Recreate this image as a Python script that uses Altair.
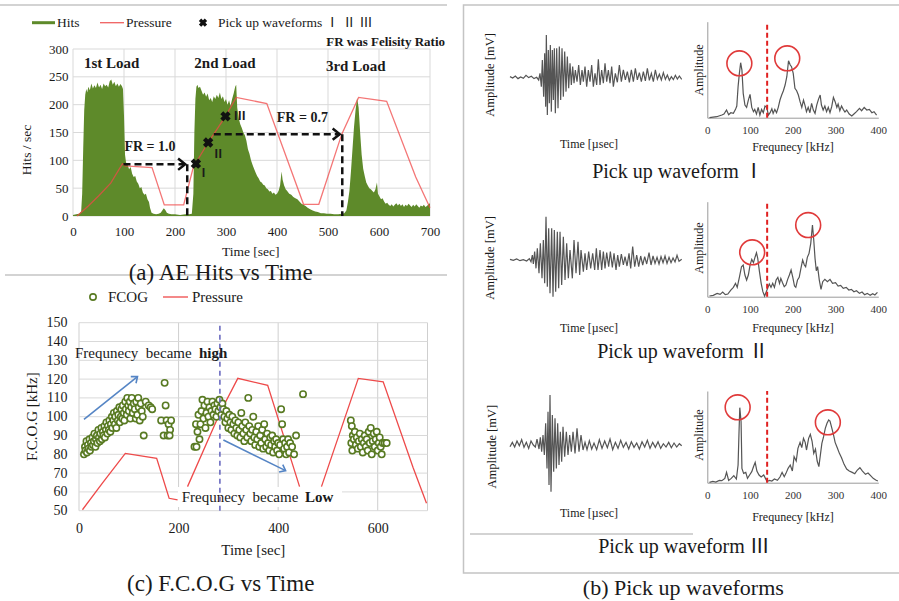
import altair as alt
import pandas as pd

SERIF = "Liberation Serif"
SERIF_R = "Liberation Serif, 'Noto Sans CJK JP'"
W, H = 899, 601
TXT = "#1a1a1a"
HEAD = "M-1,-0.8L0,0L-1,0.8"

# ---------------- (a) AE Hits vs Time ----------------
a_xticks = [0, 100, 200, 300, 400, 500, 600, 700]
a_yticks = [0, 50, 100, 150, 200, 250, 300]
hits_t = [0, 6, 12, 16, 18, 20, 22, 24, 26, 28,
          30, 33, 36, 39, 42, 45, 48, 51, 54, 57,
          60, 63, 66, 69, 72, 75, 78, 81, 84, 87,
          90, 93, 96, 98, 100, 102, 104, 107, 110, 113,
          116, 119, 122, 125, 128, 131, 134, 137, 140, 143,
          146, 149, 151, 154, 158, 163, 168, 172, 175, 178,
          181, 184, 188, 193, 200, 210, 220, 228, 233, 236,
          238, 240, 242, 244, 246, 249, 252, 255, 258, 261,
          264, 267, 270, 273, 276, 279, 282, 285, 288, 291,
          294, 297, 300, 303, 306, 309, 312, 315, 318, 320,
          322, 325, 328, 331, 334, 337, 340, 343, 346, 349,
          352, 355, 358, 361, 364, 367, 370, 373, 376, 379,
          382, 385, 388, 391, 394, 397, 400, 403, 406, 409,
          411, 414, 417, 420, 424, 428, 432, 436, 440, 444,
          448, 452, 456, 460, 465, 470, 475, 480, 486, 492,
          498, 505, 512, 520, 527, 532, 536, 539, 542, 545,
          548, 551, 554, 557, 560, 563, 566, 569, 572, 575,
          578, 581, 584, 587, 590, 593, 596, 598, 601, 604,
          607, 610, 613, 616, 619, 622, 625, 628, 631, 634,
          637, 640, 643, 646, 649, 652, 655, 658, 661, 664,
          667, 670, 673, 676, 679, 682, 685, 688, 691, 694,
          697, 700]
hits_v = [2, 3, 4, 8, 40, 120, 190, 218, 228, 222,
          232, 226, 238, 229, 235, 230, 240, 231, 236, 228,
          238, 233, 236, 231, 242, 245, 236, 241, 233, 238,
          232, 237, 233, 228, 180, 110, 96, 92, 84, 88,
          76, 70, 72, 62, 58, 50, 52, 42, 38, 40,
          30, 25, 15, 6, 4, 3, 4, 6, 10, 14,
          11, 6, 4, 3, 3, 2, 3, 3, 4, 40,
          150, 210, 232, 236, 230, 232, 225, 218, 222, 214,
          220, 208, 212, 205, 215, 210, 218, 212, 222, 210,
          215, 205, 210, 200, 208, 198, 210, 220, 232, 236,
          195, 175, 165, 158, 150, 145, 135, 120, 112, 100,
          92, 85, 78, 72, 68, 62, 60, 56, 55, 50,
          48, 44, 45, 40, 42, 38, 40, 45, 55, 80,
          65, 55, 48, 45, 40, 38, 34, 32, 30, 26,
          22, 20, 18, 15, 12, 10, 8, 7, 5, 5,
          4, 4, 3, 3, 4, 5, 10, 25, 45, 80,
          120, 160, 190, 212, 195, 150, 110, 85, 72, 60,
          55, 50, 48, 45, 42, 48, 60, 40, 35, 30,
          32, 26, 22, 24, 20, 18, 21, 17, 20, 23,
          19, 22, 18, 21, 16, 20, 18, 22, 19, 16,
          20, 17, 21, 18, 15, 19, 17, 20, 16, 18,
          21, 23]
press_a_t = [8, 30, 50, 74, 97, 102, 155, 179, 217, 236, 265, 299, 320, 380, 452, 482, 527, 560, 615, 672, 700]
press_a_v = [0, 18, 36, 59, 94, 90, 87, 20, 20, 88, 132, 179, 213, 202, 21, 21, 147, 213, 206, 70, 15]
pick_t = [241, 265, 299]
pick_v = [94, 132, 179]
pick_lab = ["Ⅰ", "Ⅱ", "Ⅲ"]
pick_lab_t = [256, 285, 327]
pick_lab_v = [77, 112, 180]
fr_seg = ["h1", "h1", "v1", "v1", "h2", "h2", "v2", "v2"]
fr_t = [99, 220, 224, 224, 276, 523, 528, 528]
fr_v = [93, 93, 93, 0, 147, 147, 147, 0]
frhead_t = [220, 523]
frhead_v = [93, 147]

# ---------------- (c) F.C.O.G vs Time ----------------
c_xticks = [0, 200, 400, 600]
c_xgrid = [0, 200, 400, 600, 700]
c_yticks = [50, 60, 70, 80, 90, 100, 110, 120, 130, 140, 150]
fcog_t = [10, 12, 13, 15, 16, 18, 19, 21, 22, 24, 25, 27, 28, 30, 31, 33, 34, 36, 37, 39,
          40, 42, 43, 45, 46, 48, 49, 51, 52, 54, 55, 57, 58, 60, 61, 63, 64, 66, 67, 69,
          70, 72, 73, 75, 76, 78, 79, 81, 82, 84, 85, 87, 88, 90, 91, 93, 94, 96, 97, 99,
          100, 102, 103, 105, 106, 108, 110, 112, 114, 115, 117, 119, 120, 122, 124, 126, 128, 130, 134, 140,
          144, 147,
          165, 170, 172, 174, 176, 178, 180, 183, 185, 182,
          232, 236, 238, 235, 240, 242, 244, 246, 248, 250, 252, 254, 256, 258, 260, 262, 264, 266, 268, 270,
          272, 274, 276, 278, 280, 282, 284, 286, 288, 290, 292,
          294, 296, 298, 300, 302, 304, 306, 308, 310, 312, 314, 316, 318, 320, 322, 324, 326, 328, 330, 332,
          334, 336, 338, 340, 342, 344, 346, 348, 350, 352, 354, 356, 358, 360, 362, 364, 366, 368, 370, 372,
          374, 376, 378, 380, 382, 384, 386, 388, 390, 392, 394, 396, 398, 400, 402, 404, 406, 408, 410, 412,
          414, 416, 418, 420, 422, 424, 428, 432, 436, 450,
          546, 548, 550, 547, 549, 552, 554, 556, 558, 560, 562, 564, 566, 568, 570, 572, 574, 576, 578, 580,
          582, 584, 586, 588, 590, 592, 594, 596, 598, 600, 602, 604, 606, 608, 610, 614, 618]
fcog_v = [80, 84, 82, 87, 81, 85, 83, 88, 82, 86, 84, 89, 85, 87, 91, 84, 88, 90, 86, 93,
          89, 87, 91, 94, 88, 92, 90, 95, 89, 93, 97, 91, 95, 93, 98, 92, 96, 100, 94, 98,
          102, 96, 100, 94, 103, 98, 101, 105, 97, 100, 104, 99, 106, 102, 98, 108, 104, 101, 110, 106,
          103, 108, 99, 105, 110, 102, 107, 104, 99, 108, 101, 110, 105, 98, 107, 103, 100, 90, 108, 106,
          105, 104,
          98, 90, 118, 106, 98, 90, 96, 93, 98, 90,
          84, 84, 92, 96, 101, 88, 96, 103, 109, 99, 106, 94, 102, 108, 100, 105, 97, 103, 108, 101,
          106, 104, 100, 107, 103, 109, 105, 101, 107, 104, 100,
          97, 103, 99, 94, 101, 97, 93, 100, 96, 91, 98, 94, 90, 97, 93, 89, 102, 95, 91, 87,
          97, 93, 89, 110, 95, 91, 87, 93, 100, 89, 85, 92, 88, 95, 84, 90, 86, 93, 83, 96,
          88, 84, 91, 86, 82, 89, 85, 90, 81, 87, 84, 88, 82, 86, 80, 85, 104, 96, 88, 83,
          86, 80, 84, 88, 81, 86, 84, 80, 90, 112,
          98, 95, 90, 86, 82, 88, 92, 85, 89, 83, 87, 91, 84, 88, 81, 86, 90, 84, 88, 82,
          92, 86, 94, 80, 87, 91, 84, 88, 92, 82, 86, 89, 84, 80, 86, 86, 86]
press_c_seg = ["s1"] * 6 + ["s2"] * 5 + ["s3"] * 5
press_c_t = [7, 47, 93, 156, 181, 198, 218, 283, 319, 379, 443, 487, 561, 611, 671, 698]
press_c_v = [50.5, 64.7, 80.5, 77.9, 56.6, 55.7, 62.8, 102, 120.4, 116.7, 62.8, 62.8, 120.4, 118.6, 73, 54]
split_t = 283
arrow_seg = ["high", "high", "low", "low"]
arrow_t = [10, 117.5, 290, 415]
arrow_v = [98.6, 121.3, 87.6, 71.3]

# ---------------- (b) Pick up waveforms ----------------
wave1_t = [30, 38, 46, 54, 62, 70, 78, 86, 94, 102, 110, 116, 120, 124, 127, 131, 134, 137, 139, 142,
           145, 148, 151, 154, 157, 160, 163, 166, 170, 174, 178, 182, 186, 190, 194, 198, 202, 206, 210, 214,
           218, 222, 226, 231, 236, 241, 246, 250, 255, 260, 265, 270, 275, 280, 285, 290, 295, 300, 305, 310,
           315, 320, 325, 330, 335, 340, 346, 352, 358, 364, 370, 376, 382, 388, 394, 400, 406, 412, 418, 424,
           430, 436, 442, 448, 454, 460, 466, 472, 478, 484, 490, 496, 502, 508, 514, 520, 526, 532, 538, 545]
wave1_a = [5, 1, 7, -1, 4, 0, 9, 2, 6, -1, 3, -5, 15, -25, 55, -55, 75, -85, 130, -110,
           85, -75, 100, -100, 85, -65, 90, -105, 90, -90, 95, -65, 90, -55, 80, -40, 65, -30, 45, -20,
           35, -15, 25, -10, 40, -20, 25, -10, 35, -25, 25, -10, 40, -25, 15, -20, 57, -20, 25, -15,
           45, -10, 25, -15, 35, -25, 15, -12, 40, -10, 25, -5, 20, -12, 25, -10, 30, -5, 17, -10,
           20, -8, 30, -6, 15, -10, 25, -3, 12, -5, 17, -3, 10, -6, 5, -4, 9, -2, 7, -3]
wave2_t = [30, 40, 50, 60, 70, 80, 88, 93, 97, 100, 104, 108, 112, 117, 121, 126, 130, 134, 138, 142,
           146, 150, 155, 159, 163, 167, 172, 176, 180, 185, 190, 195, 200, 205, 210, 217, 222, 228, 234, 239,
           243, 250, 255, 260, 266, 272, 278, 284, 289, 294, 300, 305, 310, 315, 320, 326, 331, 337, 342, 348,
           353, 358, 364, 370, 375, 381, 387, 392, 398, 404, 410, 416, 422, 428, 434, 440, 447, 453, 459, 465,
           471, 477, 483, 489, 495, 501, 507, 513, 519, 525, 531, 537, 545]
wave2_a = [2, -1, 3, -2, 1, -3, 4, -5, 15, -12, 25, -25, 35, -40, 50, -55, 60, -70, 130, -80,
           95, -100, 95, -110, 90, -95, 85, -85, 85, -75, 70, -60, 50, -55, 30, -55, 60, -40, 55, -45,
           30, -35, 20, -30, 25, -25, 20, -30, 35, -30, 30, -30, 25, -25, 22, -20, 25, -22, 20, -30,
           15, -20, 18, -15, 10, -18, 20, -25, 40, -20, 15, -20, 12, -15, 10, -12, 22, -15, 12, -10,
           8, -12, 10, -8, 12, -10, 8, -8, 6, -6, 14, -4, 2]
wave3_t = [30, 37, 44, 51, 58, 65, 72, 79, 86, 93, 100, 106, 111, 117, 121, 125, 129, 133, 137, 141,
           144, 147, 150, 153, 157, 161, 165, 169, 173, 177, 181, 185, 189, 194, 199, 204, 209, 214, 219, 225,
           231, 237, 243, 249, 255, 261, 268, 275, 282, 290, 298, 306, 314, 322, 330, 338, 346, 354, 362, 370,
           378, 386, 394, 402, 410, 418, 426, 434, 442, 450, 458, 466, 474, 482, 490, 498, 506, 514, 522, 530,
           538, 545]
wave3_a = [-3, 10, -4, 14, 0, 18, -5, 10, -8, 14, 2, -4, 20, -10, 25, -18, 32, -28, 67, -68,
           102, -118, 152, -138, 92, -78, 82, -68, 67, -58, 42, -48, 57, -33, 42, -28, 32, -18, 42, -23,
           52, -18, 32, -13, 10, -12, 15, -10, 8, -12, 18, -8, 14, -6, 20, -12, 10, -8, 16, -5,
           10, -10, 12, -5, 8, -10, 12, -4, 16, -8, 10, -5, 12, -8, 6, -4, 10, -6, 8, -4,
           6, 0]
spec_xticks = [0, 100, 200, 300, 400]
spec1_f = [5, 22, 34, 39, 45, 50, 55, 61, 66, 69, 72, 75, 78, 81, 84, 88, 92, 96, 100, 104,
           108, 111, 115, 119, 123, 127, 131, 135, 139, 143, 147, 151, 154, 158, 162, 166, 170, 174, 178, 182,
           186, 190, 194, 197, 201, 205, 209, 213, 217, 221, 225, 229, 232, 236, 240, 244, 248, 252, 256, 260,
           264, 267, 271, 275, 279, 283, 287, 291, 295, 299, 303, 306, 310, 314, 318, 322, 326, 332, 338, 343,
           349, 356, 361, 367, 373, 379, 385, 390, 396]
spec1_a = [0, 3, 8, 11, 23, 9, 15, 13, 25, 35, 93, 133, 165, 143, 73, 38, 31, 53, 70, 31,
           18, 25, 11, 31, 8, 25, 15, 35, 31, 8, 15, 27, 13, 25, 15, 31, 53, 68, 81, 98,
           123, 171, 158, 153, 133, 88, 81, 68, 48, 31, 53, 35, 18, 31, 15, 43, 23, 13, 38, 55,
           68, 38, 23, 35, 18, 31, 15, 33, 61, 48, 31, 41, 21, 35, 25, 17, 23, 11, 5, 11,
           18, 28, 21, 31, 23, 25, 15, 18, 8]
spec2_f = [5, 14, 23, 30, 36, 42, 48, 55, 61, 66, 70, 75, 80, 84, 88, 92, 96, 100, 104, 108,
           112, 115, 118, 122, 126, 130, 134, 138, 141, 145, 149, 153, 157, 161, 165, 169, 172, 176, 180, 184,
           188, 192, 196, 200, 204, 207, 211, 215, 219, 223, 227, 230, 234, 238, 242, 246, 249, 252, 255, 258,
           262, 266, 270, 275, 281, 287, 293, 300, 306, 312, 318, 325, 331, 337, 343, 349, 356, 362, 368, 374,
           381, 387, 392, 398]
spec2_a = [2, 4, 10, 7, 14, 6, 8, 20, 28, 40, 28, 58, 90, 95, 65, 50, 65, 95, 112, 102,
           120, 132, 115, 75, 40, 15, 2, 15, 25, 38, 28, 40, 28, 50, 58, 40, 55, 42, 30, 35,
           52, 65, 80, 58, 32, 28, 50, 58, 85, 110, 95, 90, 118, 130, 160, 215, 170, 115, 78, 90,
           50, 22, 45, 52, 45, 52, 40, 42, 32, 34, 25, 28, 20, 22, 15, 18, 10, 14, 6, 10,
           4, 9, 5, 13]
spec3_f = [5, 13, 20, 28, 34, 41, 45, 50, 56, 62, 68, 72, 74, 76, 79, 81, 85, 90, 94, 99,
           104, 108, 112, 116, 121, 126, 132, 136, 140, 145, 151, 157, 164, 170, 175, 180, 184, 189, 194, 199,
           203, 208, 212, 217, 221, 225, 229, 232, 237, 241, 245, 249, 253, 257, 261, 265, 268, 272, 276, 280,
           284, 287, 291, 295, 299, 304, 309, 314, 320, 326, 332, 339, 345, 351, 357, 363, 370, 376, 382, 388,
           394, 399]
spec3_a = [1, 4, 2, 7, 6, 13, 31, 7, 13, 21, 11, 53, 143, 225, 183, 43, 28, 31, 13, 23,
           33, 48, 61, 35, 23, 17, 23, 13, 3, 7, 5, 11, 7, 17, 31, 18, 28, 43, 53, 35,
           78, 65, 103, 121, 105, 133, 121, 98, 133, 145, 125, 88, 101, 65, 48, 88, 118, 138, 163, 178,
           188, 185, 165, 145, 121, 105, 88, 75, 55, 41, 35, 31, 27, 38, 45, 35, 25, 29, 21, 13,
           8, 5]
circ_f = [[75, 187], [105, 236], [71, 282]]
circ_a = [[163, 178], [133, 215], [226, 181]]
cut_f = 140
roman = ["Ⅰ", "Ⅱ", "Ⅲ"]


# ---------------- helpers ----------------
def sc(domain, rng):
    return alt.Scale(domain=domain, range=rng, nice=False, zero=False)


def T(s, x, y, size, bold=False, align="center", angle=None, color=TXT, font=SERIF):
    kw = dict(font=font, fontSize=size, fontWeight="bold" if bold else "normal",
              align=align, baseline="middle", color=color)
    if angle is not None:
        kw["angle"] = angle
    return alt.Chart(pd.DataFrame({"s": [s]})).mark_text(**kw).encode(
        x=alt.value(x), y=alt.value(y), text="s:N")


def R(x1, y1, x2, y2, color, width, dash=None):
    kw = dict(color=color, strokeWidth=width)
    if dash:
        kw["strokeDash"] = dash
    return alt.Chart(pd.DataFrame({"k": [0]})).mark_rule(**kw).encode(
        x=alt.value(x1), y=alt.value(y1), x2=alt.value(x2), y2=alt.value(y2))


def lab_axis(orient, offset, values, size, pad):
    return alt.Axis(orient=orient, offset=offset, values=values, domain=False, ticks=False, grid=False,
                    labelFont=SERIF, labelFontSize=size, labelColor=TXT, labelPadding=pad,
                    labelFlush=False, labelOverlap=False, title=None)


XA = sc([0, 700], [73, 430]); YA = sc([0, 300], [216, 49])
XC = sc([0, 700], [79, 427.5]); YC = sc([50, 150], [510.7, 322.7])
XW = sc([30, 545], [510, 681.7])
XS = sc([0, 400], [707.3, 878.3])
row_center = [78.3, 260, 445.7]
row_base = [117.7, 296.7, 482.7]
row_top = [21.7, 201.7, 391]
spec_max = [288, 285, 275]

L = []

# ================= panel (a) =================
L.append(R(0, 5, 447, 5, "#c4c4c4", 1.5))
L.append(alt.Chart(pd.DataFrame({"gx": a_xticks, "y0": [0] * 8, "y1": [300] * 8}))
         .mark_rule(color="#d9d9d9", strokeWidth=1)
         .encode(x=alt.X("gx:Q", scale=XA, axis=lab_axis("bottom", 216 - H, a_xticks, 13, 9)),
                 y=alt.Y("y0:Q", scale=YA, axis=None), y2="y1:Q"))
L.append(alt.Chart(pd.DataFrame({"gy": a_yticks, "x0": [0] * 7, "x1": [700] * 7}))
         .mark_rule(color="#d9d9d9", strokeWidth=1)
         .encode(y=alt.Y("gy:Q", scale=YA, axis=lab_axis("left", -73, a_yticks, 13, 5)),
                 x=alt.X("x0:Q", scale=XA, axis=None), x2="x1:Q"))
L.append(alt.Chart(pd.DataFrame({"t": hits_t, "v": hits_v, "b": [0] * len(hits_t)}))
         .mark_area(color="#5e8a2a", opacity=1)
         .encode(x=alt.X("t:Q", scale=XA, axis=None), y=alt.Y("v:Q", scale=YA, axis=None), y2="b:Q"))
L.append(alt.Chart(pd.DataFrame({"t": press_a_t, "p": press_a_v}))
         .mark_line(color="#f04848", strokeWidth=1.3, opacity=0.75)
         .encode(x=alt.X("t:Q", scale=XA, axis=None), y=alt.Y("p:Q", scale=YA, axis=None)))
L.append(alt.Chart(pd.DataFrame({"t": fr_t, "v": fr_v, "seg": fr_seg}))
         .mark_line(color="#111111", strokeWidth=2.5, strokeDash=[7, 4])
         .encode(x=alt.X("t:Q", scale=XA, axis=None), y=alt.Y("v:Q", scale=YA, axis=None), detail="seg:N"))
L.append(alt.Chart(pd.DataFrame({"t": frhead_t, "v": frhead_v}))
         .mark_point(shape=HEAD, filled=False, color="#111111", strokeWidth=2.5, size=200, opacity=1)
         .encode(x=alt.X("t:Q", scale=XA, axis=None), y=alt.Y("v:Q", scale=YA, axis=None)))
L.append(alt.Chart(pd.DataFrame({"t": pick_t, "v": pick_v}))
         .mark_point(shape="cross", angle=45, filled=True, color="#111111", size=110, opacity=1)
         .encode(x=alt.X("t:Q", scale=XA, axis=None), y=alt.Y("v:Q", scale=YA, axis=None)))
L.append(alt.Chart(pd.DataFrame({"t": pick_lab_t, "v": pick_lab_v, "lab": pick_lab}))
         .mark_text(font=SERIF_R, fontSize=12, fontWeight="bold", color=TXT)
         .encode(x=alt.X("t:Q", scale=XA, axis=None), y=alt.Y("v:Q", scale=YA, axis=None), text="lab:N"))
# legend (a)
L.append(R(32, 22.7, 55, 22.7, "#5e8a2a", 3))
L.append(T("Hits", 57, 22.7, 13.5, align="left"))
L.append(R(100, 22.7, 124, 22.7, "#f06060", 1.3))
L.append(T("Pressure", 126, 22.7, 13.5, align="left"))
L.append(alt.Chart(pd.DataFrame({"k": [0]})).mark_point(shape="cross", angle=45, filled=True, color="#111111", size=70, opacity=1)
         .encode(x=alt.value(203), y=alt.value(22.7)))
L.append(T("Pick up waveforms Ⅰ Ⅱ Ⅲ", 218, 22.7, 13.5, align="left", font=SERIF_R))
L.append(T("FR was Felisity Ratio", 445, 41.7, 13, bold=True, align="right"))
L.append(T("1st Load", 111.7, 62.7, 15, bold=True))
L.append(T("2nd Load", 225, 63.3, 15, bold=True))
L.append(T("3rd Load", 355.7, 66, 15, bold=True))
L.append(T("FR = 1.0", 150, 146.7, 14, bold=True))
L.append(T("FR = 0.7", 302.3, 118.3, 14, bold=True))
L.append(T("Hits / sec", 27, 150, 13.5, angle=270))
L.append(T("Time [sec]", 250.7, 252.3, 13.5))
L.append(R(5, 275, 447, 275, "#c4c4c4", 1.5))
L.append(T("(a) AE Hits vs Time", 220.7, 273.3, 23))

# ================= panel (c) =================
L.append(alt.Chart(pd.DataFrame({"gx": c_xgrid, "y0": [50] * 5, "y1": [150] * 5}))
         .mark_rule(color="#cfcfcf", strokeWidth=1)
         .encode(x=alt.X("gx:Q", scale=XC, axis=lab_axis("bottom", 510.7 - H, c_xticks, 14, 11)),
                 y=alt.Y("y0:Q", scale=YC, axis=None), y2="y1:Q"))
L.append(alt.Chart(pd.DataFrame({"gy": c_yticks, "x0": [0] * 11, "x1": [700] * 11}))
         .mark_rule(color="#d9d9d9", strokeWidth=1)
         .encode(y=alt.Y("gy:Q", scale=YC, axis=lab_axis("left", -79, c_yticks, 14, 12)),
                 x=alt.X("x0:Q", scale=XC, axis=None), x2="x1:Q"))
L.append(alt.Chart(pd.DataFrame({"t": press_c_t, "p": press_c_v, "seg": press_c_seg}))
         .mark_line(color="#ee4a4a", strokeWidth=1.3)
         .encode(x=alt.X("t:Q", scale=XC, axis=None), y=alt.Y("p:Q", scale=YC, axis=None), detail="seg:N"))
L.append(alt.Chart(pd.DataFrame({"k": [0]})).mark_rect(color="white")
         .encode(x=alt.value(178), x2=alt.value(342), y=alt.value(487), y2=alt.value(507)))
L.append(T("Frequnecy\u00a0 became", 181.7, 497.3, 15, align="left"))
L.append(T("Low", 305, 497.3, 15, bold=True, align="left"))
L.append(alt.Chart(pd.DataFrame({"t": fcog_t, "v": fcog_v}))
         .mark_point(shape="circle", filled=True, fill="white", stroke="#587a22", strokeWidth=1.6, size=40, opacity=1)
         .encode(x=alt.X("t:Q", scale=XC, axis=None), y=alt.Y("v:Q", scale=YC, axis=None)))
L.append(alt.Chart(pd.DataFrame({"t": [split_t], "y0": [50], "y1": [150]}))
         .mark_rule(color="#6b6bc0", strokeWidth=1.6, strokeDash=[5, 4])
         .encode(x=alt.X("t:Q", scale=XC, axis=None), y=alt.Y("y0:Q", scale=YC, axis=None), y2="y1:Q"))
L.append(alt.Chart(pd.DataFrame({"t": arrow_t, "v": arrow_v, "seg": arrow_seg}))
         .mark_line(color="#5585c5", strokeWidth=1.6)
         .encode(x=alt.X("t:Q", scale=XC, axis=None), y=alt.Y("v:Q", scale=YC, axis=None), detail="seg:N"))
for i, ang in [(1, 321.4), (3, 26.3)]:
    L.append(alt.Chart(pd.DataFrame({"t": [arrow_t[i]], "v": [arrow_v[i]]}))
             .mark_point(shape=HEAD, filled=False, color="#5585c5", strokeWidth=1.6, size=110, angle=ang, opacity=1)
             .encode(x=alt.X("t:Q", scale=XC, axis=None), y=alt.Y("v:Q", scale=YC, axis=None)))
L.append(T("Frequnecy\u00a0 became", 75, 352.7, 15, align="left"))
L.append(T("high", 199, 352.7, 15, bold=True, align="left"))
# legend (c)
L.append(alt.Chart(pd.DataFrame({"k": [0]}))
         .mark_point(shape="circle", filled=True, fill="white", stroke="#587a22", strokeWidth=1.6, size=40, opacity=1)
         .encode(x=alt.value(93), y=alt.value(297)))
L.append(T("FCOG", 108, 297, 15, align="left"))
L.append(R(163, 297, 188, 297, "#ee4a4a", 1.3))
L.append(T("Pressure", 192, 297, 15, align="left"))
L.append(T("F.C.O.G [kHz]", 31.7, 416.7, 15, angle=270))
L.append(T("Time [sec]", 253.3, 550, 15))
L.append(T("(c) F.C.O.G vs Time", 220.7, 584, 23))

# ================= panel (b) =================
L.append(alt.Chart(pd.DataFrame({"k": [0]})).mark_rect(fill=None, stroke="#c4c4c4", strokeWidth=1.5)
         .encode(x=alt.value(463.5), x2=alt.value(902), y=alt.value(5), y2=alt.value(573)))
waves = [(wave1_t, wave1_a), (wave2_t, wave2_a), (wave3_t, wave3_a)]
specs = [(spec1_f, spec1_a), (spec2_f, spec2_a), (spec3_f, spec3_a)]
wave_lab_y = [144, 328.3, 513]
freq_lab_y = [146.7, 328.3, 516.7]
ampmv_y = [75, 258, 446.7]
amp_y = [70, 248, 435]
cap_xy = [(678, 171.7), (683, 352.3), (684, 546.7)]
for r in range(3):
    c = row_center[r]
    YW = sc([-156, 156], [c + 52, c - 52])
    YS = sc([0, spec_max[r]], [row_base[r], row_top[r]])
    wt, wa = waves[r]
    L.append(alt.Chart(pd.DataFrame({"t": wt, "a": wa}))
             .mark_line(color="#555555", strokeWidth=1.2)
             .encode(x=alt.X("t:Q", scale=XW, axis=None), y=alt.Y("a:Q", scale=YW, axis=None)))
    sf, sa = specs[r]
    L.append(alt.Chart(pd.DataFrame({"f": sf, "a": sa}))
             .mark_line(color="#555555", strokeWidth=1.2)
             .encode(x=alt.X("f:Q", scale=XS,
                             axis=alt.Axis(orient="bottom", offset=row_base[r] - H, values=spec_xticks,
                                           domain=True, domainColor="#9a9a9a", domainWidth=1, ticks=False,
                                           grid=False, labelFont=SERIF, labelFontSize=11, labelColor="#333333",
                                           labelPadding=7, labelFlush=False, labelOverlap=False, title=None)),
                     y=alt.Y("a:Q", scale=YS,
                             axis=alt.Axis(orient="left", offset=-707.3, domain=True, domainColor="#9a9a9a",
                                           domainWidth=1, labels=False, ticks=False, grid=False, title=None))))
    L.append(alt.Chart(pd.DataFrame({"f": [cut_f], "y0": [0], "y1": [spec_max[r]]}))
             .mark_rule(color="#e02020", strokeWidth=2, strokeDash=[5, 3])
             .encode(x=alt.X("f:Q", scale=XS, axis=None), y=alt.Y("y0:Q", scale=YS, axis=None), y2="y1:Q"))
    L.append(alt.Chart(pd.DataFrame({"f": circ_f[r], "a": circ_a[r]}))
             .mark_point(shape="circle", filled=False, color="#e03a3a", strokeWidth=1.6, size=620, opacity=1)
             .encode(x=alt.X("f:Q", scale=XS, axis=None), y=alt.Y("a:Q", scale=YS, axis=None)))
    L.append(T("Amplitude [mV]", 490 if r < 2 else 491.7, ampmv_y[r], 12.5, angle=270))
    L.append(T("Time [µsec]", 589, wave_lab_y[r], 12))
    L.append(T("Amplitude", 699.3, amp_y[r], 12, angle=270))
    L.append(T("Frequnecy [kHz]", 793, freq_lab_y[r], 12))
    L.append(T("Pick up waveform " + roman[r], cap_xy[r][0], cap_xy[r][1], 20, font=SERIF_R))
L.append(R(470, 534, 693, 534, "#c4c4c4", 1.5))
L.append(T("(b) Pick up waveforms", 683.3, 587.5, 22))

chart = (alt.layer(*L)
         .resolve_scale(x="independent", y="independent")
         .properties(width=W, height=H, padding=0, background="white",
                     autosize=alt.AutoSizeParams(type="none"))
         .configure_view(stroke=None))

chart.save("out.html", embed_options={"renderer": "svg", "actions": False})
